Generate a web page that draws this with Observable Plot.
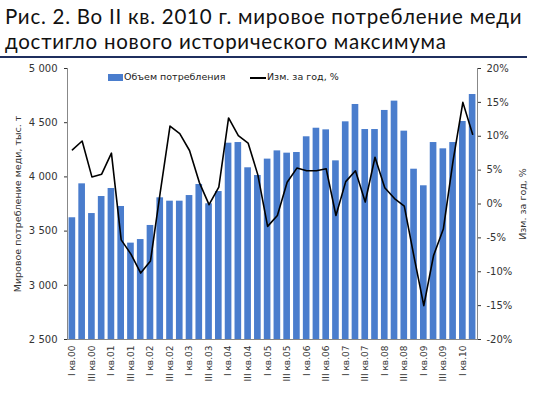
<!DOCTYPE html>
<html><head><meta charset="utf-8">
<script src="https://cdn.jsdelivr.net/npm/d3@7"></script>
<script src="https://cdn.jsdelivr.net/npm/@observablehq/plot@0.6"></script>
<style>
body{margin:0;background:#fff;}
#wrap{position:relative;width:544px;height:394px;overflow:hidden;font-family:"DejaVu Sans",sans-serif;}
.t{position:absolute;left:5px;top:4px;font-family:Lato,"Noto Sans",sans-serif;font-size:20.5px;line-height:25px;letter-spacing:0.75px;color:#111;white-space:nowrap;}
#rule{position:absolute;left:0;top:56px;width:527px;height:2px;background:#1f2f5e;}
#chart{position:absolute;left:0;top:60px;}
.lg{position:absolute;font-size:9.5px;color:#222;white-space:nowrap;}
</style></head>
<body><div id="wrap">
<div class="t">Рис. 2. Во II кв. 2010 г. мировое потребление меди<br>достигло нового исторического максимума</div>
<div id="rule"></div>
<div id="chart"></div>
<div class="lg" style="left:108px;top:74px;width:15px;height:7px;background:#4a7dcd"></div>
<div class="lg" style="left:124px;top:71px">Объем потребления</div>
<div class="lg" style="left:250px;top:77px;width:16px;height:1.5px;background:#000"></div>
<div class="lg" style="left:267px;top:71px">Изм. за год, %</div>
</div>
<script>
const years = ["00","01","02","03","04","05","06","07","08","09","10"];
const romans = ["I","II","III","IV"];
const quarters = [];
for (const y of years) for (const r of romans) quarters.push(r + " кв." + y);
quarters.length = 42; // I кв.00 … II кв.10

const consumption = [3623,3936,3662,3819,3893,3727,3389,3422,3552,3807,3776,3776,3828,3930,3752,3865,4311,4317,4084,4013,4164,4240,4219,4225,4370,4449,4434,4148,4508,4668,4437,4437,4613,4699,4422,4071,3918,4317,4259,4317,4511,4760];
const change = [8.0,9.3,4.0,4.4,7.5,-5.3,-7.4,-10.2,-8.4,1.7,11.5,10.4,7.9,3.2,-0.1,2.5,12.7,10.1,9.0,4.3,-3.3,-1.7,3.2,5.3,4.9,4.9,5.2,-1.7,3.3,4.9,0.3,6.9,2.4,0.8,-0.3,-7.8,-15.0,-7.6,-3.7,6.4,15.0,10.3];

const leftTicks = [2500,3000,3500,4000,4500,5000];
const rightTicks = [-20,-15,-10,-5,0,5,10,15,20];

// map % onto left scale: -20% -> 2500, 20% -> 5000
const toLeft = p => 2500 + (p + 20) / 40 * 2500;

const data = quarters.map((q, i) => ({q, v: consumption[i], p: toLeft(change[i])}));
const xLabels = quarters.filter((d, i) => i % 2 === 0);
const fmt = d => String(d).replace(/(\d)(\d{3})$/, "$1 $2");

const chart = Plot.plot({
  width: 544,
  height: 334,
  marginLeft: 67,
  marginRight: 67,
  marginTop: 8,
  marginBottom: 55,
  style: {fontFamily: "DejaVu Sans, sans-serif", fontSize: "10px", color: "#333", background: "#fff"},
  x: {type: "band", domain: quarters, paddingInner: 0.32, paddingOuter: 0.16, axis: null},
  y: {domain: [2500, 5000], axis: null},
  marks: [
    Plot.barY(data, {x: "q", y1: 2500, y2: "v", fill: "#4a7dcd"}),
    Plot.line(data, {x: "q", y: "p", stroke: "#000", strokeWidth: 1.6}),
    Plot.frame({anchor: "left", stroke: "#888"}),
    Plot.frame({anchor: "right", stroke: "#888"}),
    Plot.frame({anchor: "bottom", stroke: "#888"}),
    Plot.axisY({anchor: "left", ticks: leftTicks, tickFormat: fmt, tickSize: 3, tickPadding: 7, label: null, fontSize: 10}),
    Plot.axisY({anchor: "right", ticks: rightTicks.map(toLeft), tickFormat: d => Math.round((d - 2500) / 2500 * 40 - 20) + "%", tickSize: 3, tickPadding: 6, label: null, fontSize: 10}),
    Plot.axisX({ticks: xLabels, tickRotate: -90, tickSize: 0, tickPadding: 6, label: null, fontSize: 9}),
    Plot.text(["Мировое потребление меди, тыс. т"], {frameAnchor: "left", dx: -50, rotate: -90, textAnchor: "middle", fontSize: 9.5, text: d => d}),
    Plot.text(["Изм. за год, %"], {frameAnchor: "right", dx: 45, rotate: -90, textAnchor: "middle", fontSize: 9.5, text: d => d})
  ]
});
document.getElementById("chart").appendChild(chart);
</script>
</body></html>
